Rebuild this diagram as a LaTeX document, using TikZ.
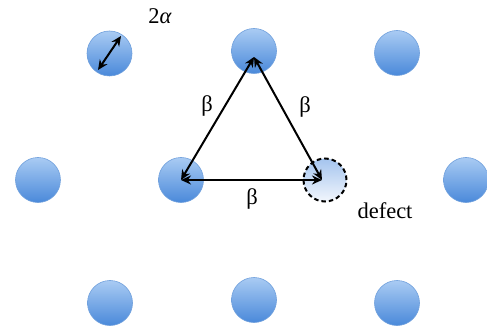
\documentclass[tikz,border=0pt]{standalone}
\usepackage{fontspec}
\setmainfont{Liberation Serif}
\usetikzlibrary{arrows.meta}
\definecolor{btop}{HTML}{A9CBF3}
\definecolor{bbot}{HTML}{4A89DA}
\definecolor{bedge}{HTML}{6E9FDC}
\definecolor{dtop}{HTML}{A4C4EE}
\definecolor{dbot}{HTML}{F2F6FC}
\tikzset{
  atom/.style={circle, minimum size=45pt, inner sep=0pt, top color=btop, bottom color=bbot, draw=bedge, line width=0.6pt},
  defectatom/.style={circle, minimum size=43pt, inner sep=0pt, top color=dtop, bottom color=dbot, draw=black, line width=2pt, dash pattern=on 4.5pt off 3pt},
  dist/.style={line width=2pt, {Stealth[length=10pt,width=9pt]}-{Stealth[length=10pt,width=9pt]}},
  lbl/.style={font=\fontsize{22.5}{24}\selectfont, inner sep=0pt}
}
\begin{document}
\begin{tikzpicture}[x=1pt,y=-1pt]
\useasboundingbox (0,0) rectangle (487,331);
\fill[white] (0,0) rectangle (487,331);
\node[atom] (a1) at (109.5,53.5) {};
\node[atom] (a2) at (254,51) {};
\node[atom] (a3) at (397,53) {};
\node[atom] (b1) at (38,180) {};
\node[atom] (b2) at (181,180) {};
\node[defectatom] (d) at (325,180) {};
\node[atom] (b4) at (466,180) {};
\node[atom] (c1) at (110,303) {};
\node[atom] (c2) at (254,300) {};
\node[atom] (c3) at (397,303) {};
\coordinate (tA) at (254,57);
\coordinate (tL) at (181,180);
\coordinate (tR) at (322,180);
\coordinate (s1) at (98,70);
\coordinate (s2) at (121,36);
\draw[dist] (tL) -- (tA);
\draw[dist] (tA) -- (tR);
\draw[dist] (tL) -- (tR);
\draw[dist] (s1) -- (s2);
\node[lbl] (la) at (160,16) {2\textit{α}};
\node[lbl] (lb1) at (207,106) {β};
\node[lbl] (lb2) at (305,107) {β};
\node[lbl] (lb3) at (252,199) {β};
\node[lbl] (ld) at (385,211) {defect};
\end{tikzpicture}
\end{document}
